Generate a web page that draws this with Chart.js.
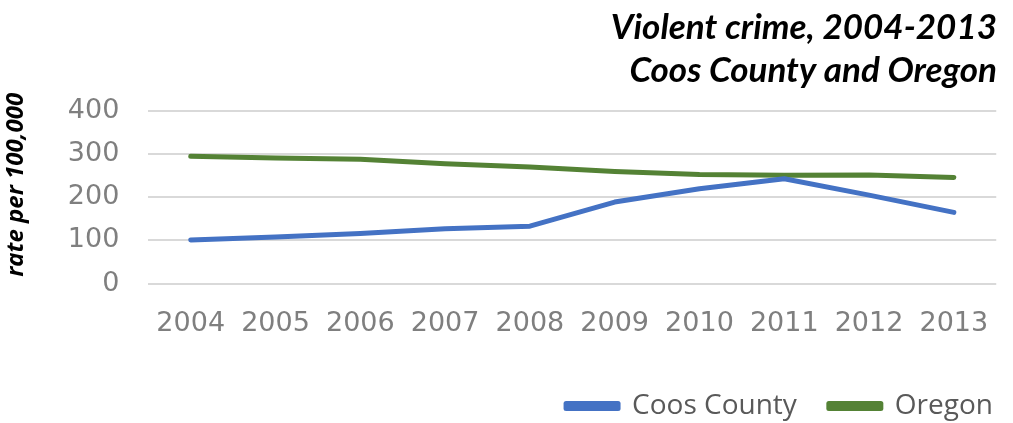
<!DOCTYPE html>
<html>
<head>
<meta charset="utf-8">
<script src="https://cdn.jsdelivr.net/npm/chart.js@4.4.1/dist/chart.umd.min.js"></script>
<style>
html,body{margin:0;padding:0;background:#fff;}
#wrap{width:1013px;height:423px;position:relative;overflow:hidden;}
</style>
</head>
<body>
<div id="wrap"><canvas id="c" width="1013" height="423"></canvas></div>
<script>
const years = ["2004","2005","2006","2007","2008","2009","2010","2011","2012","2013"];
const coosCounty = [101, 108, 116, 127, 133, 189, 220, 243, 205, 165];
const oregon = [295, 291, 288, 278, 270, 260, 253, 251, 252, 246];
const yTicks = [0, 100, 200, 300, 400];
const titleLines = ["Violent crime, 2004-2013", "Coos County and Oregon"];

const shiftLegend = {
  id: 'shiftLegend',
  afterLayout(chart) {
    chart.legend.left += 28;
    chart.legend.right += 28;
  }
};

new Chart(document.getElementById('c'), {
  type: 'line',
  data: {
    labels: years,
    datasets: [
      {label: 'Coos County', data: coosCounty, borderColor: '#4472c4', backgroundColor: '#4472c4',
       borderWidth: 5, pointRadius: 0, borderCapStyle: 'round', borderJoinStyle: 'round', tension: 0},
      {label: 'Oregon', data: oregon, borderColor: '#548235', backgroundColor: '#548235',
       borderWidth: 5, pointRadius: 0, borderCapStyle: 'round', borderJoinStyle: 'round', tension: 0}
    ]
  },
  plugins: [shiftLegend],
  options: {
    responsive: false,
    animation: false,
    devicePixelRatio: 1,
    layout: {padding: {left: 2, right: 16, top: 6, bottom: -7}},
    plugins: {
      tooltip: {enabled: false},
      title: {
        display: true, text: titleLines, align: 'end', color: '#000',
        font: {family: 'Lato', size: 35, weight: 'bold', style: 'italic', lineHeight: 1.229},
        padding: {top: 0, bottom: 19}
      },
      legend: {
        position: 'bottom', align: 'end',
        labels: {
          boxWidth: 52, boxHeight: 5, color: '#595959', padding: 32,
          font: {family: 'Open Sans', size: 28}
        }
      }
    },
    scales: {
      x: {
        offset: true,
        grid: {display: false, drawTicks: false},
        border: {display: false},
        ticks: {color: '#7f7f7f', font: {family: 'DejaVu Sans', size: 27}, padding: 24, maxRotation: 0},
        afterFit: (axis) => { axis.height -= 4; }
      },
      y: {
        min: 0, max: 400,
        afterBuildTicks: (ax) => { ax.ticks = yTicks.map(v => ({value: v})); },
        grid: {color: '#d9d9d9', lineWidth: 2, drawTicks: false},
        border: {display: false},
        ticks: {color: '#7f7f7f', font: {family: 'DejaVu Sans', size: 27}, padding: 29},
        title: {display: true, text: '    rate per 100,000', color: '#000',
                font: {family: 'Open Sans', size: 24, weight: 'bold', style: 'italic'}, padding: {top: 0, bottom: 8}}
      }
    }
  }
});
</script>
</body>
</html>
